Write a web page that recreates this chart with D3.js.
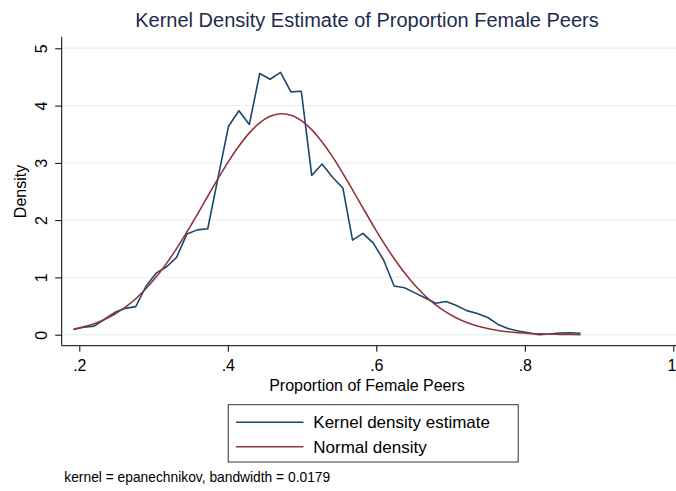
<!DOCTYPE html>
<html>
<head>
<meta charset="utf-8">
<script src="https://cdn.jsdelivr.net/npm/d3@7"></script>
<style>
  html, body { margin: 0; padding: 0; background: #fff; }
  svg { display: block; font-family: "Liberation Sans", Arial, Helvetica, sans-serif; }
</style>
</head>
<body>
<svg id="chart" width="676" height="491"></svg>
<script>
// ---- data ----
const gridX = [0.192,0.206,0.220,0.234,0.248,0.262,0.276,0.290,0.304,0.318,
               0.331,0.345,0.359,0.373,0.387,0.401,0.415,0.429,0.443,0.457,
               0.471,0.485,0.499,0.513,0.527,0.541,0.555,0.568,0.582,0.596,
               0.610,0.624,0.638,0.652,0.666,0.680,0.694,0.708,0.722,0.736,
               0.750,0.764,0.777,0.791,0.805,0.819,0.833,0.847,0.861,0.875];
const kdeDensity = [0.09,0.13,0.15,0.27,0.39,0.46,0.49,0.85,1.08,1.19,
                    1.35,1.76,1.83,1.85,2.75,3.64,3.91,3.67,4.56,4.46,
                    4.58,4.24,4.25,2.78,2.98,2.75,2.56,1.65,1.77,1.60,
                    1.30,0.85,0.82,0.73,0.64,0.55,0.58,0.51,0.42,0.37,
                    0.30,0.18,0.11,0.065,0.035,0.0,0.012,0.03,0.035,0.025];
const normalDensity = [0.096,0.138,0.193,0.267,0.361,0.481,0.628,0.806,1.014,1.254,
                       1.503,1.794,2.100,2.417,2.730,3.027,3.296,3.524,3.699,3.812,
                       3.857,3.832,3.738,3.580,3.366,3.108,2.817,2.530,2.214,1.901,
                       1.604,1.329,1.080,0.863,0.676,0.520,0.393,0.292,0.212,0.152,
                       0.107,0.074,0.051,0.034,0.022,0.014,0.009,0.006,0.003,0.002];
const xTicks = [0.2, 0.4, 0.6, 0.8, 1];
const xTickLabels = [".2", ".4", ".6", ".8", "1"];
const yTicks = [0, 1, 2, 3, 4, 5];
const yTickLabels = ["0", "1", "2", "3", "4", "5"];
const seriesNames = ["Kernel density estimate", "Normal density"];
const titleText = "Kernel Density Estimate of Proportion Female Peers";
const xTitle = "Proportion of Female Peers";
const yTitle = "Density";
const noteText = "kernel = epanechnikov, bandwidth = 0.0179";

// ---- layout ----
const colors = ["#1a476f", "#90353b"];
const svg = d3.select("#chart");
const axisLeftX = 61.7, axisBottomY = 345.7, plotTop = 36.7, plotRight = 676;

const x = d3.scaleLinear().domain([0.2, 1]).range([79.3, 673.3]);
const y = d3.scaleLinear().domain([0, 5]).range([334.7, 48.3]);

// gridlines
svg.append("g").selectAll("line").data(yTicks).join("line")
  .attr("x1", axisLeftX).attr("x2", plotRight)
  .attr("y1", d => y(d)).attr("y2", d => y(d))
  .attr("stroke", "#e9f1f2").attr("stroke-width", 1.4);

// y axis
const yAxis = d3.axisLeft(y).tickValues(yTicks).tickSize(6.5).tickSizeOuter(0)
  .tickFormat((d, i) => yTickLabels[i]);
const gy = svg.append("g").attr("transform", `translate(${axisLeftX},0)`).call(yAxis);
gy.select(".domain").remove();
gy.selectAll(".tick line").attr("stroke", "#000").attr("stroke-width", 1);
gy.selectAll(".tick text")
  .attr("x", null).attr("dy", null)
  .attr("transform", "translate(-20,0) rotate(-90)")
  .attr("text-anchor", "middle").attr("dy", "0.36em")
  .attr("font-size", 16).attr("fill", "#000")
  .attr("font-family", "Liberation Sans, Arial, sans-serif");
svg.append("line").attr("x1", axisLeftX).attr("x2", axisLeftX)
  .attr("y1", plotTop).attr("y2", axisBottomY).attr("stroke", "#000").attr("stroke-width", 1);

// x axis
const xAxis = d3.axisBottom(x).tickValues(xTicks).tickSize(6).tickSizeOuter(0)
  .tickFormat((d, i) => xTickLabels[i]);
const gx = svg.append("g").attr("transform", `translate(0,${axisBottomY})`).call(xAxis);
gx.select(".domain").remove();
gx.selectAll(".tick line").attr("stroke", "#000").attr("stroke-width", 1);
gx.selectAll(".tick text").attr("y", 14).attr("dy", "0.71em")
  .attr("font-size", 16).attr("fill", "#000")
  .attr("font-family", "Liberation Sans, Arial, sans-serif")
  .attr("text-anchor", (d, i) => i === xTicks.length - 1 ? "end" : "middle")
  .attr("x", (d, i) => i === xTicks.length - 1 ? 2.5 : 0);
svg.append("line").attr("x1", axisLeftX).attr("x2", plotRight)
  .attr("y1", axisBottomY).attr("y2", axisBottomY).attr("stroke", "#000").attr("stroke-width", 1);

// lines
const lineGen = d3.line().x(d => x(d[0])).y(d => y(d[1]));
const normalPts = gridX.map((v, i) => [v, normalDensity[i]]);
const kdePts = gridX.map((v, i) => [v, kdeDensity[i]]);
svg.append("path").attr("d", lineGen(kdePts)).attr("fill", "none")
  .attr("stroke", colors[0]).attr("stroke-width", 1.6).attr("stroke-linejoin", "round");
svg.append("path").attr("d", d3.line().curve(d3.curveMonotoneX).x(d => x(d[0])).y(d => y(d[1]))(normalPts))
  .attr("fill", "none").attr("stroke", colors[1]).attr("stroke-width", 1.6);

// titles
svg.append("text").attr("x", 367).attr("y", 26.5).attr("text-anchor", "middle")
  .attr("font-size", 20).attr("fill", "#1c2b4d").text(titleText);
svg.append("text").attr("x", 367).attr("y", 391).attr("text-anchor", "middle")
  .attr("font-size", 16).attr("fill", "#000").text(xTitle);
svg.append("text").attr("transform", "translate(26,191.5) rotate(-90)")
  .attr("text-anchor", "middle").attr("font-size", 16).attr("fill", "#000").text(yTitle);

// legend
const lg = svg.append("g");
lg.append("rect").attr("x", 228.2).attr("y", 404.7).attr("width", 290).attr("height", 57.3)
  .attr("fill", "#fff").attr("stroke", "#333").attr("stroke-width", 1);
const legY = [422.3, 446.7];
seriesNames.forEach((name, i) => {
  lg.append("line").attr("x1", 236).attr("x2", 303.5).attr("y1", legY[i]).attr("y2", legY[i])
    .attr("stroke", colors[i]).attr("stroke-width", 1.6);
  lg.append("text").attr("x", 313.3).attr("y", legY[i] + 6).attr("font-size", 17)
    .attr("fill", "#000").text(name);
});

// note
svg.append("text").attr("x", 64.3).attr("y", 482).attr("font-size", 13.8)
  .attr("fill", "#000").text(noteText);
</script>
</body>
</html>
